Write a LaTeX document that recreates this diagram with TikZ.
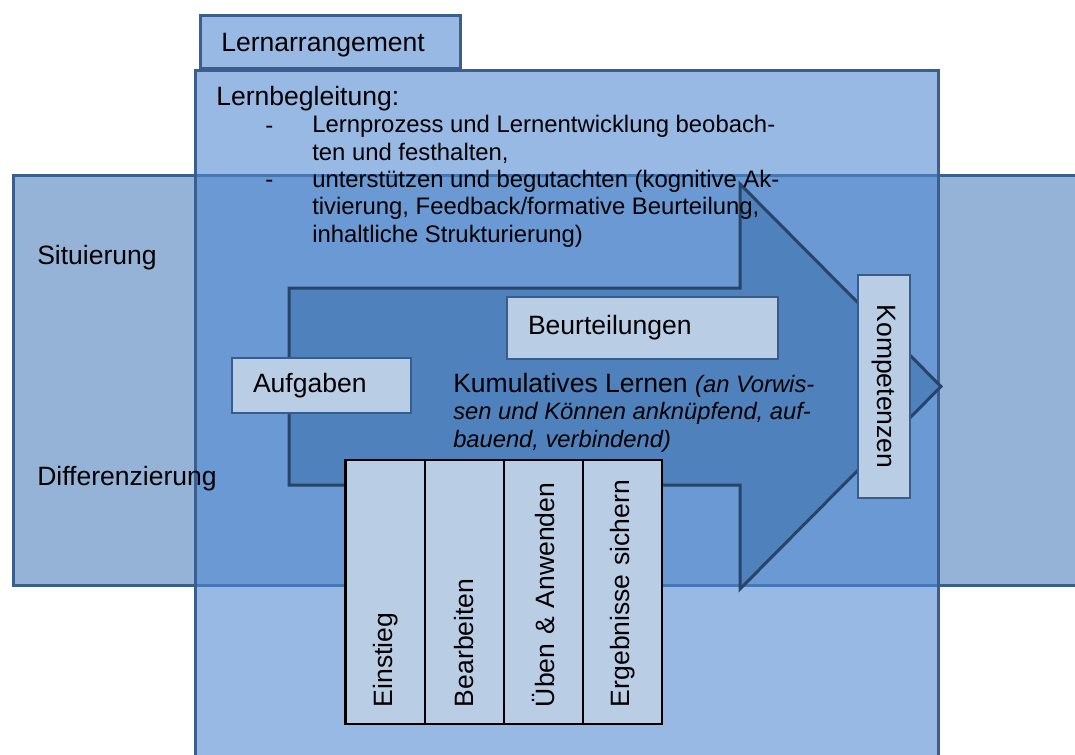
\documentclass[tikz,border=0pt]{standalone}
\usepackage{fontspec}
\setmainfont{Liberation Sans}

\definecolor{bandfill}{RGB}{149,179,215}
\definecolor{lernfill}{RGB}{79,136,209}
\definecolor{randblau}{RGB}{58,95,143}
\definecolor{pfeilfill}{RGB}{79,129,189}
\definecolor{pfeilrand}{RGB}{40,68,104}
\definecolor{kastenfill}{RGB}{185,205,229}
\definecolor{kastenrand}{RGB}{56,93,138}

\newcommand{\kleinkursiv}[1]{{\fontsize{17.8}{20.5}\selectfont\itshape #1}}

\begin{document}
\begin{tikzpicture}[x=0.75pt,y=-0.75pt,
        schrift/.style={font=\fontsize{19.9}{20.5}\selectfont, inner sep=0pt},
        listenschrift/.style={font=\fontsize{17.9}{20.4}\selectfont, inner sep=0pt},
        rahmen/.style={draw=randblau, line width=2.25pt},
        kasten/.style={draw=kastenrand, fill=kastenfill, line width=1.5pt, font=\fontsize{19.9}{20.5}\selectfont, align=left},
        phase/.style={draw=black, line width=0.9pt, fill=kastenfill, rotate=90, font=\fontsize{19.9}{20.5}\selectfont,
            minimum width=198pt, minimum height=59.25pt, text width=172.5pt, inner xsep=12.75pt, align=left}]
            \useasboundingbox (0,0) rectangle (1075,754);
            \clip (0,0) rectangle (1075,754);

            \draw[rahmen, fill=bandfill] (13,175) rectangle (1090,585);
            \draw[rahmen, fill=lernfill, fill opacity=0.59] (195.5,70) rectangle (938.5,770);
            \draw[rahmen, fill=lernfill, fill opacity=0.59] (200,15) rectangle (460,68);

            \draw[draw=pfeilrand, line width=2.25pt, fill=pfeilfill, line join=miter]
                (289,288) -- (740,288) -- (740,184) -- (941,386.5) -- (740,589) -- (740,485) -- (289,485) -- cycle;

            \node[schrift, anchor=base west] (lernarr) at (221,51) {Lernarrangement};
            \node[schrift, anchor=base west] (lernbeg) at (216,105) {Lernbegleitung:};
            \node[listenschrift, anchor=base west] (strich1) at (265,133) {-};
            \node[listenschrift, anchor=base west, align=left] (punkt1) at (312,160) {Lernprozess und Lernentwicklung beobach-\\ten und festhalten,};
            \node[listenschrift, anchor=base west] (strich2) at (265,187) {-};
            \node[listenschrift, anchor=base west, align=left] (punkt2) at (312,242) {unterstützen und begutachten (kognitive Ak-\\tivierung, Feedback/formative Beurteilung,\\inhaltliche Strukturierung)};

            \node[schrift, anchor=base west] (situ) at (37,264) {Situierung};
            \node[schrift, anchor=base west] (diff) at (37,485) {Differenzierung};

            \node[kasten, minimum width=134.25pt, minimum height=41.25pt, text width=102.75pt, inner xsep=15.75pt] (aufgaben) at (321.5,385.5) {Aufgaben};
            \node[kasten, minimum width=203.25pt, minimum height=46.5pt, text width=171.75pt, inner xsep=15.75pt] (beurt) at (642.5,328) {Beurteilungen};
            \node[kasten, rotate=-90, minimum width=167.25pt, minimum height=39pt, align=center] (kompetenz) at (884,386.5) {Kompetenzen};

            \node[schrift, anchor=base west, align=left] (kumul) at (453,447) {Kumulatives Lernen \kleinkursiv{(an Vorwis-}\\\kleinkursiv{sen und Können anknüpfend, auf-}\\\kleinkursiv{bauend, verbindend)}};

            \node[phase] (einstieg) at (385.5,592) {Einstieg};
            \node[phase] (bearbeiten) at (464.5,592) {Bearbeiten};
            \node[phase] (ueben) at (543.5,592) {Üben \& Anwenden};
            \node[phase] (sichern) at (623,592) {Ergebnisse sichern};
            \draw[black, line width=1.5pt] (345,460) rectangle (662,724);
        \end{tikzpicture}
\end{document}
